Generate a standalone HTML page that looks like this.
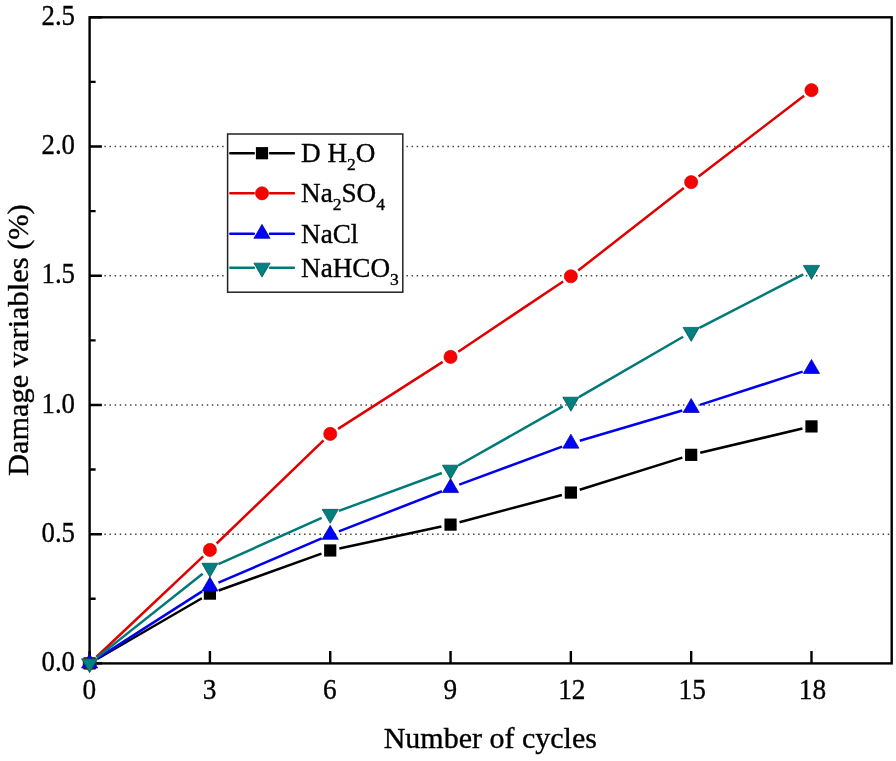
<!DOCTYPE html><html><head><meta charset="utf-8"><style>html,body{margin:0;padding:0;background:#fff;}svg{display:block;will-change:transform;}text{font-family:"Liberation Serif",serif;fill:#000;stroke:#000;stroke-width:0.35px;}</style></head><body>
<svg width="896" height="761" viewBox="0 0 896 761">
<rect width="896" height="761" fill="#fff"/>
<line x1="104.35" y1="534.18" x2="889.70" y2="534.18" stroke="#444" stroke-width="1.4" stroke-dasharray="1.5 3.62"/>
<line x1="104.35" y1="404.96" x2="889.70" y2="404.96" stroke="#444" stroke-width="1.4" stroke-dasharray="1.5 3.62"/>
<line x1="104.35" y1="275.74" x2="889.70" y2="275.74" stroke="#444" stroke-width="1.4" stroke-dasharray="1.5 3.62"/>
<line x1="104.35" y1="146.52" x2="889.70" y2="146.52" stroke="#444" stroke-width="1.4" stroke-dasharray="1.5 3.62"/>
<rect x="89.60" y="17.30" width="802.10" height="646.10" fill="none" stroke="#000" stroke-width="2.4"/>
<path d="M89.60 663.40H101.90M89.60 534.18H101.90M89.60 404.96H101.90M89.60 275.74H101.90M89.60 146.52H101.90M89.60 17.30H101.90M89.60 598.79H95.60M89.60 469.57H95.60M89.60 340.35H95.60M89.60 211.13H95.60M89.60 81.91H95.60M89.60 663.40V650.90M209.92 663.40V650.90M330.23 663.40V650.90M450.55 663.40V650.90M570.86 663.40V650.90M691.18 663.40V650.90M811.49 663.40V650.90" stroke="#000" stroke-width="2.4" fill="none"/>
<text transform="translate(75.0,671.10) scale(0.915,1)" font-size="29.3" text-anchor="end">0.0</text>
<text transform="translate(75.0,541.88) scale(0.915,1)" font-size="29.3" text-anchor="end">0.5</text>
<text transform="translate(75.0,412.66) scale(0.915,1)" font-size="29.3" text-anchor="end">1.0</text>
<text transform="translate(75.0,283.44) scale(0.915,1)" font-size="29.3" text-anchor="end">1.5</text>
<text transform="translate(75.0,154.22) scale(0.915,1)" font-size="29.3" text-anchor="end">2.0</text>
<text transform="translate(75.0,25.00) scale(0.915,1)" font-size="29.3" text-anchor="end">2.5</text>
<text transform="translate(89.30,698.7) scale(0.91,1)" font-size="30" text-anchor="middle">0</text>
<text transform="translate(209.62,698.7) scale(0.91,1)" font-size="30" text-anchor="middle">3</text>
<text transform="translate(329.93,698.7) scale(0.91,1)" font-size="30" text-anchor="middle">6</text>
<text transform="translate(450.25,698.7) scale(0.91,1)" font-size="30" text-anchor="middle">9</text>
<text transform="translate(571.86,698.7) scale(0.91,1)" font-size="30" text-anchor="middle">12</text>
<text transform="translate(692.18,698.7) scale(0.91,1)" font-size="30" text-anchor="middle">15</text>
<text transform="translate(812.49,698.7) scale(0.91,1)" font-size="30" text-anchor="middle">18</text>
<text x="490.3" y="747.5" font-size="30" text-anchor="middle">Number of cycles</text>
<text transform="translate(27.7,340.15) rotate(-90)" x="0" y="0" font-size="30.4" text-anchor="middle">Damage variables (%)</text>
<path d="M97.64 658.73L201.87 598.29M218.67 590.48L321.48 553.60M339.32 548.51L441.45 526.57M459.53 522.22L561.87 494.96M579.73 489.79L682.30 457.62M700.23 452.70L802.44 428.55" stroke="#000000" stroke-width="2.5" fill="none"/>
<path d="M96.37 657.02L203.15 556.33M216.61 543.49L323.54 440.36M338.06 428.89L442.71 361.90M458.27 351.71L563.13 281.43M578.19 270.53L683.85 187.91M698.56 176.54L804.10 95.83" stroke="#e00000" stroke-width="2.5" fill="none"/>
<path d="M97.43 658.39L202.08 591.40M218.46 582.71L321.69 538.37M338.90 531.33L441.88 491.29M459.27 484.70L562.14 446.69M579.78 440.82L682.26 410.45M700.02 404.93L802.64 371.65" stroke="#0000ee" stroke-width="2.5" fill="none"/>
<path d="M96.88 657.62L202.63 573.69M218.40 564.11L321.74 517.82M338.96 510.82L441.82 473.03M458.64 465.25L562.76 406.43M578.90 397.19L683.13 336.75M699.44 327.82L803.22 274.32" stroke="#007a78" stroke-width="2.5" fill="none"/>
<rect x="83.50" y="657.30" width="12.2" height="12.2" fill="#000000"/>
<rect x="203.82" y="587.52" width="12.2" height="12.2" fill="#000000"/>
<rect x="324.13" y="544.36" width="12.2" height="12.2" fill="#000000"/>
<rect x="444.45" y="518.52" width="12.2" height="12.2" fill="#000000"/>
<rect x="564.76" y="486.47" width="12.2" height="12.2" fill="#000000"/>
<rect x="685.08" y="448.74" width="12.2" height="12.2" fill="#000000"/>
<rect x="805.39" y="420.31" width="12.2" height="12.2" fill="#000000"/>
<circle cx="89.60" cy="663.40" r="6.6" fill="#f80000" stroke="#c80000" stroke-width="0.6"/>
<circle cx="209.92" cy="549.94" r="6.6" fill="#f80000" stroke="#c80000" stroke-width="0.6"/>
<circle cx="330.23" cy="433.91" r="6.6" fill="#f80000" stroke="#c80000" stroke-width="0.6"/>
<circle cx="450.55" cy="356.89" r="6.6" fill="#f80000" stroke="#c80000" stroke-width="0.6"/>
<circle cx="570.86" cy="276.26" r="6.6" fill="#f80000" stroke="#c80000" stroke-width="0.6"/>
<circle cx="691.18" cy="182.18" r="6.6" fill="#f80000" stroke="#c80000" stroke-width="0.6"/>
<circle cx="811.49" cy="90.18" r="6.6" fill="#f80000" stroke="#c80000" stroke-width="0.6"/>
<polygon points="89.60,654.07 97.70,668.07 81.50,668.07" fill="#0000ff" stroke="#00009a" stroke-width="0.7" stroke-linejoin="round"/>
<polygon points="209.92,577.05 218.02,591.05 201.82,591.05" fill="#0000ff" stroke="#00009a" stroke-width="0.7" stroke-linejoin="round"/>
<polygon points="330.23,525.36 338.33,539.36 322.13,539.36" fill="#0000ff" stroke="#00009a" stroke-width="0.7" stroke-linejoin="round"/>
<polygon points="450.55,478.59 458.65,492.59 442.45,492.59" fill="#0000ff" stroke="#00009a" stroke-width="0.7" stroke-linejoin="round"/>
<polygon points="570.86,434.13 578.96,448.13 562.76,448.13" fill="#0000ff" stroke="#00009a" stroke-width="0.7" stroke-linejoin="round"/>
<polygon points="691.18,398.47 699.28,412.47 683.08,412.47" fill="#0000ff" stroke="#00009a" stroke-width="0.7" stroke-linejoin="round"/>
<polygon points="811.49,359.45 819.59,373.45 803.39,373.45" fill="#0000ff" stroke="#00009a" stroke-width="0.7" stroke-linejoin="round"/>
<polygon points="81.50,658.73 97.70,658.73 89.60,672.73" fill="#008080" stroke="#004a48" stroke-width="0.7" stroke-linejoin="round"/>
<polygon points="201.82,563.24 218.02,563.24 209.92,577.24" fill="#008080" stroke="#004a48" stroke-width="0.7" stroke-linejoin="round"/>
<polygon points="322.13,509.36 338.33,509.36 330.23,523.36" fill="#008080" stroke="#004a48" stroke-width="0.7" stroke-linejoin="round"/>
<polygon points="442.45,465.16 458.65,465.16 450.55,479.16" fill="#008080" stroke="#004a48" stroke-width="0.7" stroke-linejoin="round"/>
<polygon points="562.76,397.19 578.96,397.19 570.86,411.19" fill="#008080" stroke="#004a48" stroke-width="0.7" stroke-linejoin="round"/>
<polygon points="683.08,327.41 699.28,327.41 691.18,341.41" fill="#008080" stroke="#004a48" stroke-width="0.7" stroke-linejoin="round"/>
<polygon points="803.39,265.39 819.59,265.39 811.49,279.39" fill="#008080" stroke="#004a48" stroke-width="0.7" stroke-linejoin="round"/>
<rect x="227.6" y="134" width="175.2" height="158.2" fill="#fff" stroke="#222" stroke-width="1.5"/>
<path d="M230.3 153.2L253.8 153.2M270 153.2L293.9 153.2" stroke="#000000" stroke-width="2.5" stroke-linecap="round" fill="none"/>
<rect x="255.90" y="147.10" width="12.2" height="12.2" fill="#000000"/>
<text x="301" y="162.20" font-size="27.2">D H<tspan font-size="17.5" dy="7.7">2</tspan><tspan dy="-7.7">O</tspan></text>
<path d="M230.3 193.3L253.8 193.3M270 193.3L293.9 193.3" stroke="#e00000" stroke-width="2.5" stroke-linecap="round" fill="none"/>
<circle cx="262.00" cy="193.30" r="6.6" fill="#f80000" stroke="#c80000" stroke-width="0.6"/>
<text x="301" y="202.30" font-size="27.2">Na<tspan font-size="17.5" dy="7.7">2</tspan><tspan dy="-7.7">SO</tspan><tspan font-size="17.5" dy="7.7">4</tspan></text>
<path d="M230.3 233.7L253.8 233.7M270 233.7L293.9 233.7" stroke="#0000ee" stroke-width="2.5" stroke-linecap="round" fill="none"/>
<polygon points="262.00,224.37 270.10,238.37 253.90,238.37" fill="#0000ff" stroke="#00009a" stroke-width="0.7" stroke-linejoin="round"/>
<text x="301" y="242.70" font-size="27.2">NaCl</text>
<path d="M230.3 267.8L253.8 267.8M270 267.8L293.9 267.8" stroke="#007a78" stroke-width="2.5" stroke-linecap="round" fill="none"/>
<polygon points="253.90,263.13 270.10,263.13 262.00,277.13" fill="#008080" stroke="#004a48" stroke-width="0.7" stroke-linejoin="round"/>
<text x="301" y="276.80" font-size="27.2">NaHCO<tspan font-size="17.5" dy="7.7">3</tspan></text>
</svg></body></html>
